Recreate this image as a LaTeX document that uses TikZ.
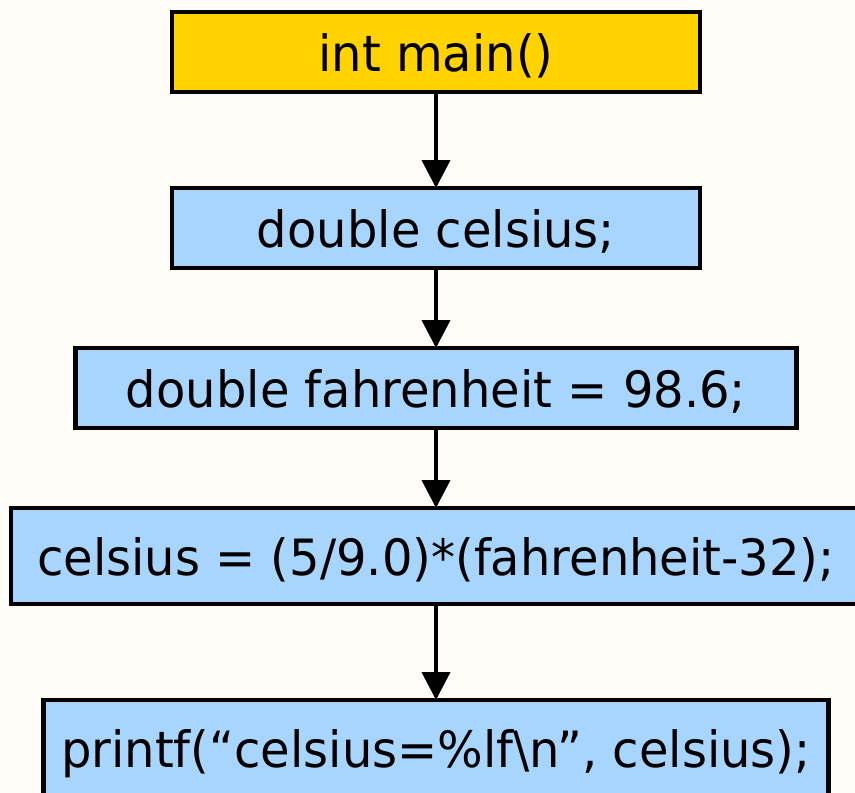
\documentclass[tikz,border=0pt]{standalone}
\usepackage{fontspec}
\setmainfont{DejaVu Sans}[FakeStretch=0.96]
\usepackage{tikz}
\usetikzlibrary{positioning,arrows.meta}
\definecolor{bgcream}{HTML}{FFFBF7}
\definecolor{mainyellow}{HTML}{FFD200}
\definecolor{stmtblue}{HTML}{A8D5FD}
\tikzset{
  stmtbox/.style={rectangle, draw=black, line width=4.5pt, fill=stmtblue, outer sep=0pt,
                  inner sep=0pt, minimum height=80pt, text height=38pt, text depth=0pt,
                  font=\fontsize{50}{56}\selectfont},
  entry/.style={fill=mainyellow},
  flow/.style={-{Triangle[width=28pt,length=28pt]}, line width=4pt},
}

\begin{document}
\begin{tikzpicture}[node distance=80pt]
  \fill[bgcream] (0pt,0pt) rectangle (855pt,-793pt);
  \useasboundingbox (0pt,0pt) rectangle (855pt,-793pt);

  \node[stmtbox, entry, minimum width=528pt] (main) at (436pt,-52pt) {int main()};
  \node[stmtbox, minimum width=528pt] (celsius) [below=96pt of main] {double celsius;};
  \node[stmtbox, minimum width=721pt] (fahr) [below=of celsius] {double fahrenheit = 98.6;};
  \node[stmtbox, minimum width=850pt, minimum height=96pt] (calc) [below=of fahr] {celsius = (5/9.0)*(fahrenheit-32);};
  \node[stmtbox, minimum width=785pt, minimum height=96pt] (print) [below=96pt of calc] {printf(“celsius=\%lf\textbackslash n”, celsius);};

  \draw[flow] (main.south) -- (celsius.north);
  \draw[flow] (celsius.south) -- (fahr.north);
  \draw[flow] (fahr.south) -- (calc.north);
  \draw[flow] (calc.south) -- (print.north);

\end{tikzpicture}
\end{document}
